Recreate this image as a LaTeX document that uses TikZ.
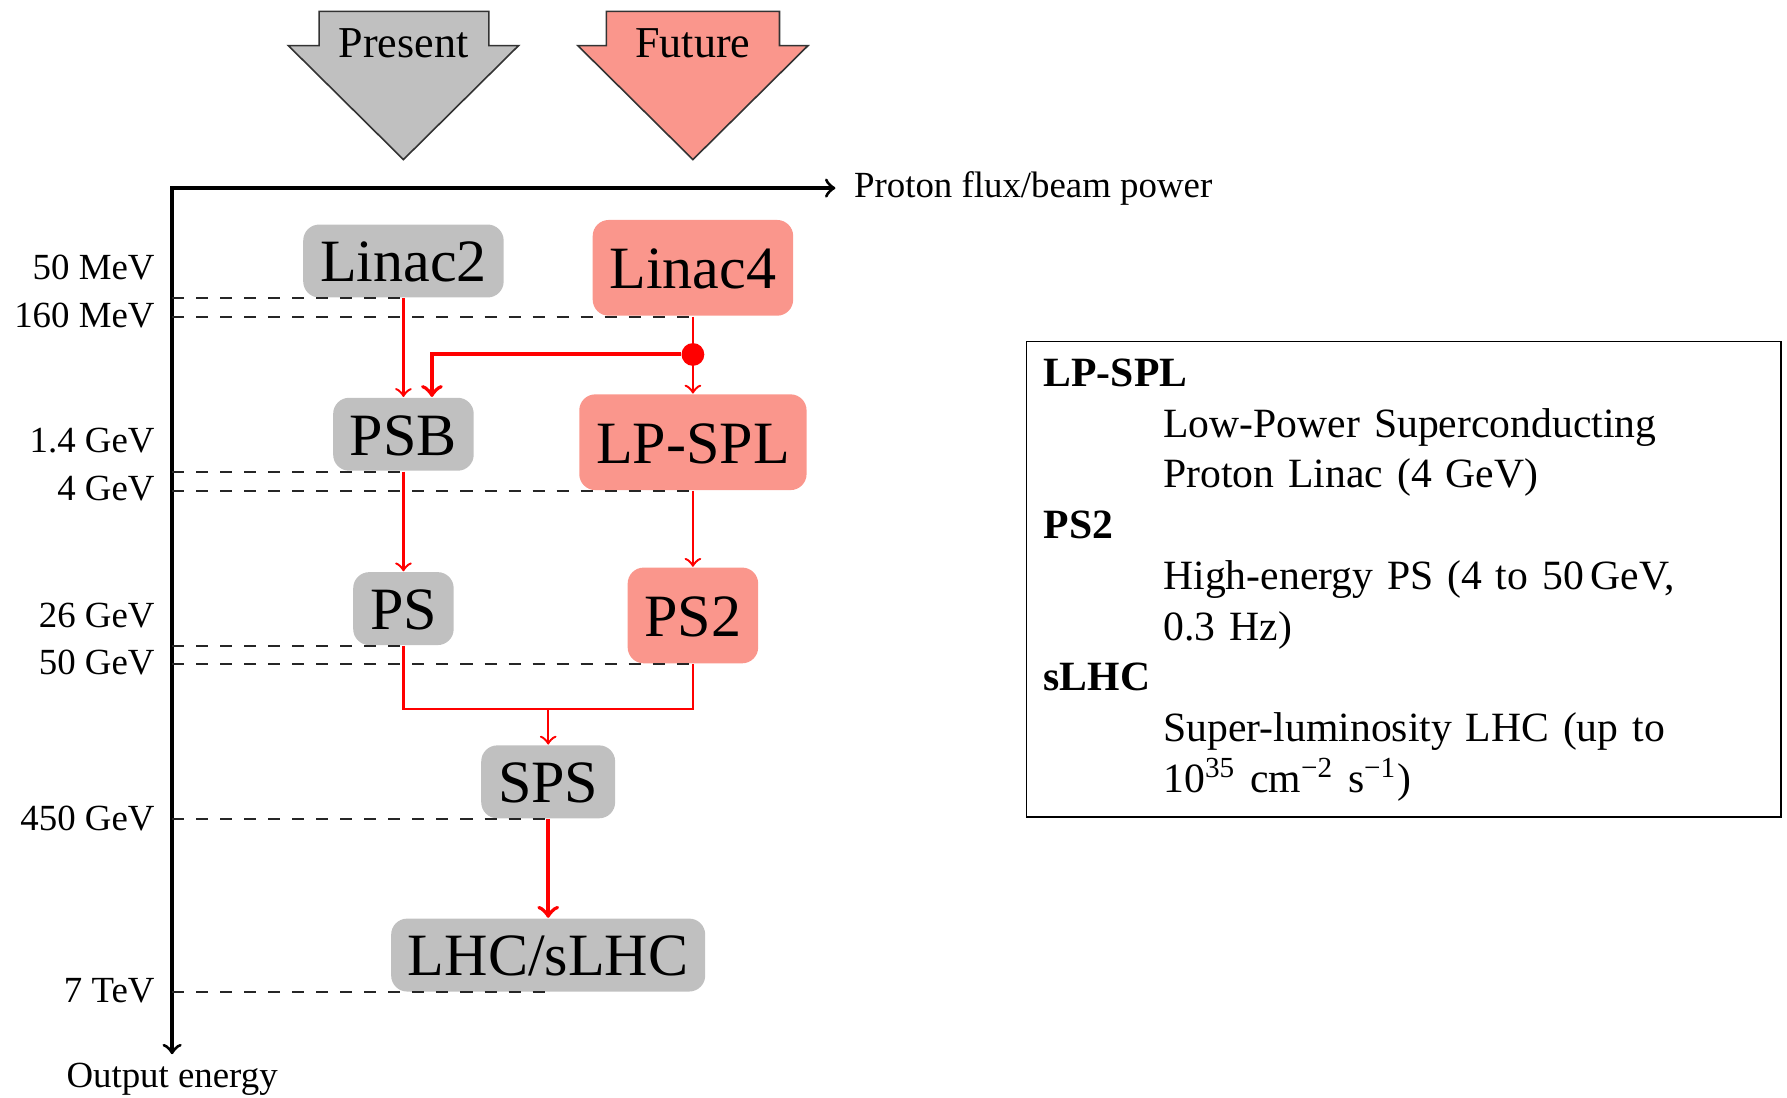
\documentclass[tikz,border=0pt]{standalone}
\usepackage{fontspec}
\setmainfont{Liberation Serif}

\definecolor{nowgray}{RGB}{192,192,192}
\definecolor{nextred}{RGB}{250,150,140}

\tikzset{
  machine/.style={rounded corners=4pt, inner xsep=4.2pt, text height=10.4pt,
    text depth=0pt, font=\fontsize{15}{18}\selectfont},
  present/.style={machine, fill=nowgray, minimum height=0.64cm},
  future/.style={machine, fill=nextred, minimum height=0.84cm},
  beam/.style={red, line width=0.6pt, ->},
  level/.style={dashed, line width=0.5pt, black!85},
  energy/.style={anchor=east, font=\fontsize{9.2}{11}\selectfont},
  axislabel/.style={font=\fontsize{9.2}{11}\selectfont},
  era/.style={draw=black!80, thin},
  eralabel/.style={font=\fontsize{11}{13}\selectfont},
  legendbox/.style={draw, thin, inner xsep=4.3pt, inner ysep=2.35pt,
    text width=179.8pt, align=left, font=\fontsize{10.4}{12.66}\selectfont}
}

\begin{document}
\begin{tikzpicture}
  \useasboundingbox (0,0) rectangle (15.68,-9.63);

  % present / future
  \draw[era, fill=nowgray] (2.80,-0.10) -- (4.29,-0.10) -- (4.29,-0.40) -- (4.55,-0.40)
    -- (3.54,-1.40) -- (2.53,-0.40) -- (2.80,-0.40) -- cycle;
  \draw[era, fill=nextred] (5.32,-0.10) -- (6.84,-0.10) -- (6.84,-0.40) -- (7.09,-0.40)
    -- (6.08,-1.40) -- (5.07,-0.40) -- (5.32,-0.40) -- cycle;
  \node[eralabel] (present) at (3.54,-0.38) {Present};
  \node[eralabel] (future) at (6.08,-0.38) {Future};

  % axes
  \coordinate (origin) at (1.51,-1.65);
  \coordinate (fluxend) at (7.33,-1.65);
  \coordinate (energyend) at (1.51,-9.25);
  \draw[thick, <->] (fluxend) -- (origin) -- (energyend);
  \node[axislabel, anchor=west] (flux) at (7.37,-1.65) {Proton flux/beam power};
  \node[axislabel, anchor=base] (output) at (1.51,-9.54) {Output energy};

  % machines
  \node[present] (linac2) at (3.54,-2.29) {Linac2};
  \node[future] (linac4) at (6.08,-2.35) {Linac4};
  \node[present] (psb) at (3.54,-3.81) {PSB};
  \node[future] (lpspl) at (6.08,-3.88) {LP-SPL};
  \node[present] (ps) at (3.54,-5.34) {PS};
  \node[future] (ps2) at (6.08,-5.40) {PS2};
  \node[present] (sps) at (4.81,-6.86) {SPS};
  \node[present] (lhc) at (4.81,-8.38) {LHC/sLHC};

  % energies
  \draw[level] (origin |- linac2.south) -- (linac2.south);
  \draw[level] (origin |- linac4.south) -- (linac4.south);
  \draw[level] (origin |- psb.south) -- (psb.south);
  \draw[level] (origin |- lpspl.south) -- (lpspl.south);
  \draw[level] (origin |- ps.south) -- (ps.south);
  \draw[level] (origin |- ps2.south) -- (ps2.south);
  \draw[level] (origin |- sps.south) -- (sps.south);
  \draw[level] (origin |- lhc.south) -- (lhc.south);
  \node[energy] (e50m) at (1.48,-2.345) {50 MeV};
  \node[energy] (e160m) at (1.48,-2.77) {160 MeV};
  \node[energy] (e14g) at (1.48,-3.865) {1.4 GeV};
  \node[energy] (e4g) at (1.48,-4.285) {4 GeV};
  \node[energy] (e26g) at (1.48,-5.40) {26 GeV};
  \node[energy] (e50g) at (1.48,-5.81) {50 GeV};
  \node[energy] (e450g) at (1.48,-7.185) {450 GeV};
  \node[energy] (e7t) at (1.48,-8.695) {7 TeV};

  % beam lines
  \node[circle, fill=red, inner sep=0pt, minimum size=0.2cm] (split) at (6.08,-3.11) {};
  \coordinate (merge) at (4.81,-6.22);
  \draw[beam] (linac2) -- (psb);
  \draw[beam] (linac4) -- (lpspl);
  \draw[beam, line width=1pt] (split) -| ([xshift=0.25cm]psb.north);
  \draw[beam] (psb) -- (ps);
  \draw[beam] (lpspl) -- (ps2);
  \draw[red, line width=0.6pt] (ps) |- (merge) -| (ps2);
  \draw[beam] (merge) -- (sps);
  \draw[beam, line width=1pt] (sps) -- (lhc);

  % legend
  \node[legendbox, anchor=north west] (legend) at (9.00,-2.99) {%
    \begin{tabular}{@{}p{29.9pt}@{}l@{}}
      \multicolumn{2}{@{}l@{}}{\textbf{LP-SPL}}\\
      & Low-Power Superconducting\\
      & Proton Linac (4 GeV)\\
      \multicolumn{2}{@{}l@{}}{\textbf{PS2}}\\
      & High-energy PS (4 to 50\,GeV,\\
      & 0.3 Hz)\\
      \multicolumn{2}{@{}l@{}}{\textbf{sLHC}}\\
      & Super-luminosity LHC (up to\\
      & 10\textsuperscript{35} cm\textsuperscript{−2} s\textsuperscript{−1})
    \end{tabular}};
\end{tikzpicture}
\end{document}
